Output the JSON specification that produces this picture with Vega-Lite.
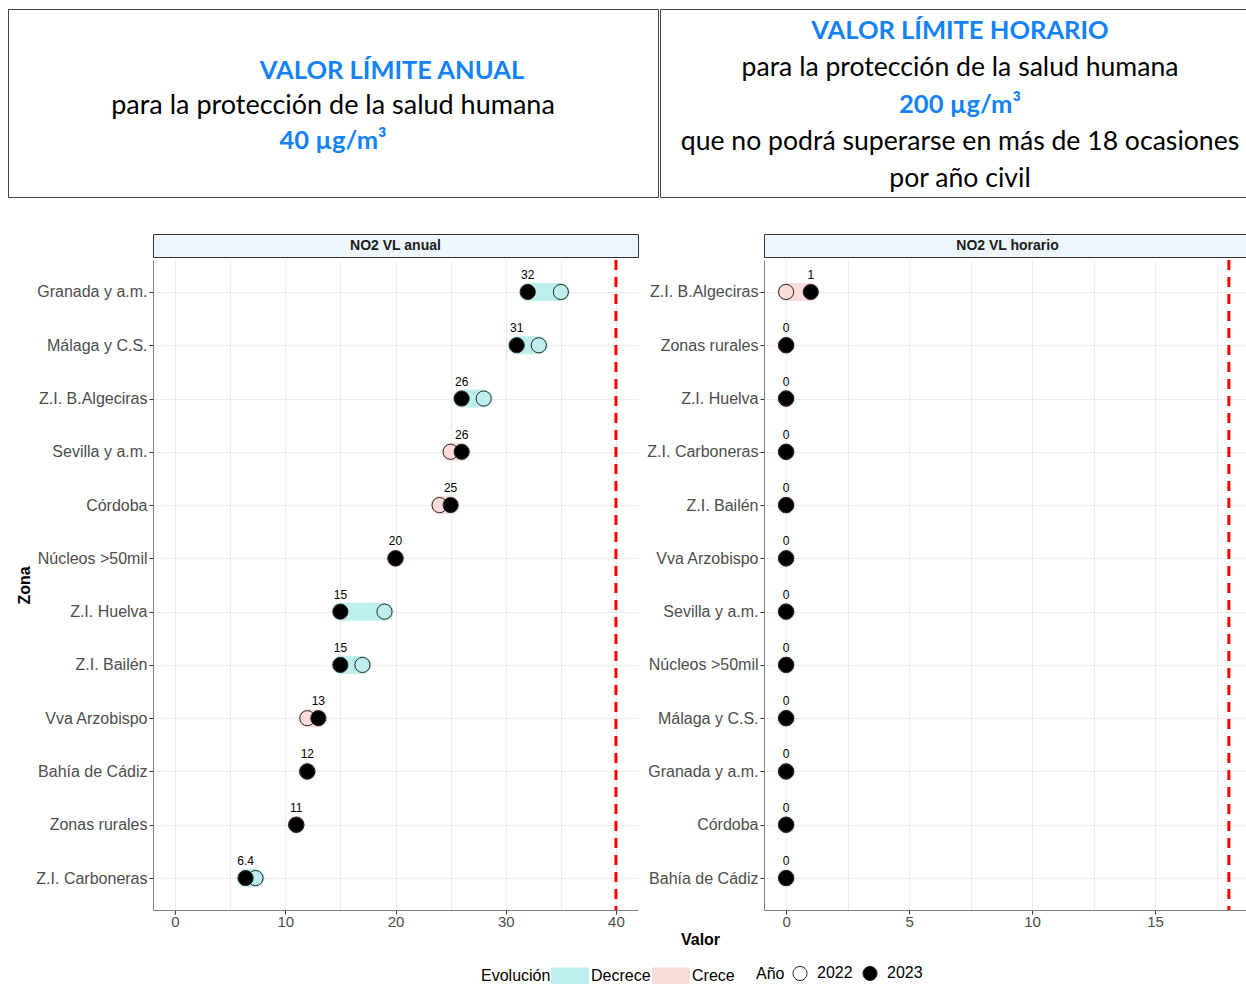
{
  "$schema": "https://vega.github.io/schema/vega-lite/v6.json",
  "padding": {"left": 7, "top": 8, "right": 0, "bottom": 0},
  "background": "white",
  "align": "none",
  "resolve": {"scale": {"stroke": "shared", "fill": "shared"}, "legend": {"stroke": "shared", "fill": "shared"}},
  "config": {
    "font": "Liberation Sans",
    "view": {"stroke": null},
    "axis": {
      "labelFont": "Liberation Sans", "labelFontSize": 16, "labelColor": "#4d4d4d",
      "tickColor": "#333333", "tickSize": 4, "domainColor": "#7f7f7f",
      "gridColor": "#ebebeb", "gridWidth": 1,
      "titleFont": "Liberation Sans", "titleFontSize": 16, "titleFontWeight": "bold", "titleColor": "#000000"
    },
    "axisX": {"labelFontSize": 15, "labelPadding": 0},
    "legend": {
      "labelFont": "Liberation Sans", "titleFont": "Liberation Sans",
      "labelFontSize": 16, "titleFontSize": 16, "titleFontWeight": "normal",
      "labelColor": "#000000", "titleColor": "#000000"
    }
  },
  "datasets": {
    "cabecera": [
      {"caja": "anual", "linea": 1, "texto": "VALOR LÍMITE ANUAL", "tipo": "titulo"},
      {"caja": "anual", "linea": 2, "texto": "para la protección de la salud humana", "tipo": "texto"},
      {"caja": "anual", "linea": 3, "texto": "40 µg/m³", "tipo": "valor"},
      {"caja": "horario", "linea": 1, "texto": "VALOR LÍMITE HORARIO", "tipo": "titulo"},
      {"caja": "horario", "linea": 2, "texto": "para la protección de la salud humana", "tipo": "texto"},
      {"caja": "horario", "linea": 3, "texto": "200 µg/m³", "tipo": "valor"},
      {"caja": "horario", "linea": 4, "texto": "que no podrá superarse en más de 18 ocasiones", "tipo": "texto"},
      {"caja": "horario", "linea": 5, "texto": "por año civil", "tipo": "texto"}
    ],
    "anual": [
      {"zona": "Granada y a.m.", "2022": 35, "2023": 32, "evolucion": "Decrece"},
      {"zona": "Málaga y C.S.", "2022": 33, "2023": 31, "evolucion": "Decrece"},
      {"zona": "Z.I. B.Algeciras", "2022": 28, "2023": 26, "evolucion": "Decrece"},
      {"zona": "Sevilla y a.m.", "2022": 25, "2023": 26, "evolucion": "Crece"},
      {"zona": "Córdoba", "2022": 24, "2023": 25, "evolucion": "Crece"},
      {"zona": "Núcleos >50mil", "2022": 20, "2023": 20, "evolucion": "Crece"},
      {"zona": "Z.I. Huelva", "2022": 19, "2023": 15, "evolucion": "Decrece"},
      {"zona": "Z.I. Bailén", "2022": 17, "2023": 15, "evolucion": "Decrece"},
      {"zona": "Vva Arzobispo", "2022": 12, "2023": 13, "evolucion": "Crece"},
      {"zona": "Bahía de Cádiz", "2022": 12, "2023": 12, "evolucion": "Crece"},
      {"zona": "Zonas rurales", "2022": 11, "2023": 11, "evolucion": "Crece"},
      {"zona": "Z.I. Carboneras", "2022": 7.3, "2023": 6.4, "evolucion": "Decrece"}
    ],
    "horario": [
      {"zona": "Z.I. B.Algeciras", "2022": 0, "2023": 1, "evolucion": "Crece"},
      {"zona": "Zonas rurales", "2022": 0, "2023": 0, "evolucion": "Crece"},
      {"zona": "Z.I. Huelva", "2022": 0, "2023": 0, "evolucion": "Crece"},
      {"zona": "Z.I. Carboneras", "2022": 0, "2023": 0, "evolucion": "Crece"},
      {"zona": "Z.I. Bailén", "2022": 0, "2023": 0, "evolucion": "Crece"},
      {"zona": "Vva Arzobispo", "2022": 0, "2023": 0, "evolucion": "Crece"},
      {"zona": "Sevilla y a.m.", "2022": 0, "2023": 0, "evolucion": "Crece"},
      {"zona": "Núcleos >50mil", "2022": 0, "2023": 0, "evolucion": "Crece"},
      {"zona": "Málaga y C.S.", "2022": 0, "2023": 0, "evolucion": "Crece"},
      {"zona": "Granada y a.m.", "2022": 0, "2023": 0, "evolucion": "Crece"},
      {"zona": "Córdoba", "2022": 0, "2023": 0, "evolucion": "Crece"},
      {"zona": "Bahía de Cádiz", "2022": 0, "2023": 0, "evolucion": "Crece"}
    ]
  },
  "spacing": 35,
  "vconcat": [
    {
      "spacing": 0,
      "hconcat": [
        {
          "width": 650, "height": 188,
          "view": {"stroke": "#444444", "strokeWidth": 1},
          "data": {"name": "cabecera"},
          "transform": [{"filter": "datum.caja == 'anual'"}],
          "encoding": {
            "x": {"field": "caja", "type": "nominal", "axis": null},
            "y": {"field": "linea", "type": "ordinal", "axis": null, "scale": {"type": "point", "domain": [0, 1, 2, 3, 4], "padding": 0.69}},
            "text": {"field": "texto"}
          },
          "layer": [
            {"transform": [{"filter": "datum.tipo == 'titulo'"}],
             "mark": {"type": "text", "font": "Lato", "fontSize": 25.5, "fontWeight": "bold", "color": "#1282f6", "baseline": "middle", "dx": 59, "dy": 3}},
            {"transform": [{"filter": "datum.tipo == 'valor'"}],
             "mark": {"type": "text", "font": "Lato", "fontSize": 25.5, "fontWeight": "bold", "color": "#1282f6", "baseline": "middle", "dy": 3}},
            {"transform": [{"filter": "datum.tipo == 'texto'"}],
             "mark": {"type": "text", "font": "Lato", "fontSize": 27, "color": "#000000", "baseline": "middle", "dy": 3}}
          ]
        },
        {
          "width": 600, "height": 188,
          "view": {"stroke": "#444444", "strokeWidth": 1},
          "data": {"name": "cabecera"},
          "transform": [{"filter": "datum.caja == 'horario'"}],
          "encoding": {
            "x": {"field": "caja", "type": "nominal", "axis": null},
            "y": {"field": "linea", "type": "ordinal", "axis": null, "scale": {"type": "point", "padding": 0.55}},
            "text": {"field": "texto"}
          },
          "layer": [
            {"transform": [{"filter": "datum.tipo != 'texto'"}],
             "mark": {"type": "text", "font": "Lato", "fontSize": 25.5, "fontWeight": "bold", "color": "#1282f6", "baseline": "middle", "dy": 2}},
            {"transform": [{"filter": "datum.tipo == 'texto'"}],
             "mark": {"type": "text", "font": "Lato", "fontSize": 26.6, "color": "#000000", "baseline": "middle", "dy": 2}}
          ]
        }
      ]
    },
    {
      "spacing": 7,
      "align": "each",
      "hconcat": [
        {
          "width": 1, "height": 1,
          "data": {"values": []},
          "mark": "point"
        },
        {
          "spacing": 0,
          "vconcat": [
            {
              "width": 485, "height": 23,
              "view": {"fill": "#eef6fd", "stroke": "#333333", "strokeWidth": 1},
              "data": {"values": [{"indicador": "NO2 VL anual"}]},
              "mark": {"type": "text", "fontWeight": "bold", "fontSize": 14, "color": "#1a1a1a", "baseline": "middle"},
              "encoding": {
                "x": {"field": "indicador", "type": "nominal", "axis": null},
                "y": {"field": "indicador", "type": "nominal", "axis": null},
                "text": {"field": "indicador"}
              }
            },
            {
              "width": 485, "height": 650,
              "data": {"name": "anual"},
              "layer": [
                {
                  "data": {"values": [{"limite": 40}]},
                  "mark": {"type": "rule", "color": "#ff0000", "strokeWidth": 3, "strokeDash": [10, 7]},
                  "encoding": {
                    "x": {"field": "limite", "type": "quantitative",
                      "scale": {"domain": [-2, 42], "nice": false, "zero": false},
                      "axis": {"title": null, "values": [0, 5, 10, 15, 20, 25, 30, 35, 40],
                        "labelExpr": "datum.value % 10 === 0 ? datum.label : ''",
                        "tickOpacity": {"condition": {"test": "datum.value % 10 === 0", "value": 1}, "value": 0},
                        "grid": true}}
                  }
                },
                {
                  "mark": {"type": "rule", "strokeWidth": 18, "strokeCap": "round", "opacity": 1},
                  "encoding": {
                    "y": {"field": "zona", "type": "nominal",
                      "scale": {"type": "point", "padding": 0.6, "domain": ["Granada y a.m.", "Málaga y C.S.", "Z.I. B.Algeciras", "Sevilla y a.m.", "Córdoba", "Núcleos >50mil", "Z.I. Huelva", "Z.I. Bailén", "Vva Arzobispo", "Bahía de Cádiz", "Zonas rurales", "Z.I. Carboneras"]},
                      "axis": {"title": "Zona", "titlePadding": 3, "labelPadding": 2, "grid": true}},
                    "x": {"field": "2022", "type": "quantitative",
                      "axis": {"title": null, "values": [0, 5, 10, 15, 20, 25, 30, 35, 40],
                        "labelExpr": "datum.value % 10 === 0 ? datum.label : ''",
                        "tickOpacity": {"condition": {"test": "datum.value % 10 === 0", "value": 1}, "value": 0},
                        "grid": true}},
                    "x2": {"field": "2023"},
                    "stroke": {"field": "evolucion", "type": "nominal",
                      "scale": {"domain": ["Decrece", "Crece"], "range": ["#bfeeee", "#fbdcd8"]},
                      "legend": {"title": "Evolución", "orient": "none", "legendX": 473, "legendY": 948,
                        "direction": "horizontal", "titleOrient": "left", "titleAnchor": "middle", "titleBaseline": "bottom",
                        "symbolType": "M-1.8,0H1.8",
                        "symbolStrokeWidth": 17, "symbolSize": 441, "columnPadding": -33, "labelOffset": 2,
                        "titlePadding": 0, "symbolOpacity": 1}}
                  }
                },
                {
                  "transform": [{"fold": ["2022", "2023"], "as": ["Año", "valor"]}],
                  "mark": {"type": "circle", "size": 230, "stroke": "#262626", "strokeWidth": 1, "opacity": 1},
                  "encoding": {
                    "y": {"field": "zona", "type": "nominal", "axis": {"title": "Zona", "titlePadding": 3, "labelPadding": 2, "grid": true}},
                    "x": {"field": "valor", "type": "quantitative",
                      "axis": {"title": null, "values": [0, 5, 10, 15, 20, 25, 30, 35, 40],
                        "labelExpr": "datum.value % 10 === 0 ? datum.label : ''",
                        "tickOpacity": {"condition": {"test": "datum.value % 10 === 0", "value": 1}, "value": 0},
                        "grid": true}},
                    "fill": {"field": "Año", "type": "nominal",
                      "scale": {"domain": ["2022", "2023"], "range": ["rgba(255,255,255,0)", "#000000"]},
                      "legend": {"title": "Año", "orient": "none", "legendX": 748, "legendY": 956,
                        "direction": "horizontal", "titleOrient": "left", "symbolType": "circle",
                        "symbolSize": 200, "symbolStrokeColor": "#262626", "symbolStrokeWidth": 1,
                        "columnPadding": 7, "labelOffset": 9, "titlePadding": 7}}
                  }
                },
                {
                  "mark": {"type": "text", "dy": -17, "fontSize": 12, "color": "#000000"},
                  "encoding": {
                    "y": {"field": "zona", "type": "nominal", "axis": {"title": "Zona", "titlePadding": 3, "labelPadding": 2, "grid": true}},
                    "x": {"field": "2023", "type": "quantitative",
                      "axis": {"title": null, "values": [0, 5, 10, 15, 20, 25, 30, 35, 40],
                        "labelExpr": "datum.value % 10 === 0 ? datum.label : ''",
                        "tickOpacity": {"condition": {"test": "datum.value % 10 === 0", "value": 1}, "value": 0},
                        "grid": true}},
                    "text": {"field": "2023", "type": "quantitative"}
                  }
                }
              ]
            }
          ]
        },
        {
          "spacing": 0,
          "vconcat": [
            {
              "width": 487, "height": 23,
              "view": {"fill": "#eef6fd", "stroke": "#333333", "strokeWidth": 1},
              "data": {"values": [{"indicador": "NO2 VL horario"}]},
              "mark": {"type": "text", "fontWeight": "bold", "fontSize": 14, "color": "#1a1a1a", "baseline": "middle"},
              "encoding": {
                "x": {"field": "indicador", "type": "nominal", "axis": null},
                "y": {"field": "indicador", "type": "nominal", "axis": null},
                "text": {"field": "indicador"}
              }
            },
            {
              "width": 487, "height": 650,
              "data": {"name": "horario"},
              "layer": [
                {
                  "data": {"values": [{"limite": 18}]},
                  "mark": {"type": "rule", "color": "#ff0000", "strokeWidth": 3, "strokeDash": [10, 7]},
                  "encoding": {
                    "x": {"field": "limite", "type": "quantitative",
                      "scale": {"domain": [-0.9, 18.9], "nice": false, "zero": false},
                      "axis": {"title": "Valor", "titleX": -64, "titleAlign": "center", "titlePadding": 2,
                        "values": [0, 2.5, 5, 7.5, 10, 12.5, 15, 17.5],
                        "labelExpr": "datum.value % 5 === 0 ? datum.label : ''",
                        "tickOpacity": {"condition": {"test": "datum.value % 5 === 0", "value": 1}, "value": 0},
                        "grid": true}}
                  }
                },
                {
                  "mark": {"type": "rule", "strokeWidth": 18, "strokeCap": "round", "opacity": 1},
                  "encoding": {
                    "y": {"field": "zona", "type": "nominal",
                      "scale": {"type": "point", "padding": 0.6, "domain": ["Z.I. B.Algeciras", "Zonas rurales", "Z.I. Huelva", "Z.I. Carboneras", "Z.I. Bailén", "Vva Arzobispo", "Sevilla y a.m.", "Núcleos >50mil", "Málaga y C.S.", "Granada y a.m.", "Córdoba", "Bahía de Cádiz"]},
                      "axis": {"title": null, "labelPadding": 2, "grid": true}},
                    "x": {"field": "2022", "type": "quantitative",
                      "axis": {"title": "Valor", "titleX": -64, "titleAlign": "center", "titlePadding": 2,
                        "values": [0, 2.5, 5, 7.5, 10, 12.5, 15, 17.5],
                        "labelExpr": "datum.value % 5 === 0 ? datum.label : ''",
                        "tickOpacity": {"condition": {"test": "datum.value % 5 === 0", "value": 1}, "value": 0},
                        "grid": true}},
                    "x2": {"field": "2023"},
                    "stroke": {"field": "evolucion", "type": "nominal",
                      "scale": {"domain": ["Decrece", "Crece"], "range": ["#bfeeee", "#fbdcd8"]},
                      "legend": {"title": "Evolución", "orient": "none", "legendX": 473, "legendY": 948,
                        "direction": "horizontal", "titleOrient": "left", "titleAnchor": "middle", "titleBaseline": "bottom",
                        "symbolType": "M-1.8,0H1.8",
                        "symbolStrokeWidth": 17, "symbolSize": 441, "columnPadding": -33, "labelOffset": 2,
                        "titlePadding": 0, "symbolOpacity": 1}}
                  }
                },
                {
                  "transform": [{"fold": ["2022", "2023"], "as": ["Año", "valor"]}],
                  "mark": {"type": "circle", "size": 230, "stroke": "#262626", "strokeWidth": 1, "opacity": 1},
                  "encoding": {
                    "y": {"field": "zona", "type": "nominal", "axis": {"title": null, "labelPadding": 2, "grid": true}},
                    "x": {"field": "valor", "type": "quantitative",
                      "axis": {"title": "Valor", "titleX": -64, "titleAlign": "center", "titlePadding": 2,
                        "values": [0, 2.5, 5, 7.5, 10, 12.5, 15, 17.5],
                        "labelExpr": "datum.value % 5 === 0 ? datum.label : ''",
                        "tickOpacity": {"condition": {"test": "datum.value % 5 === 0", "value": 1}, "value": 0},
                        "grid": true}},
                    "fill": {"field": "Año", "type": "nominal",
                      "scale": {"domain": ["2022", "2023"], "range": ["rgba(255,255,255,0)", "#000000"]},
                      "legend": {"title": "Año", "orient": "none", "legendX": 748, "legendY": 956,
                        "direction": "horizontal", "titleOrient": "left", "symbolType": "circle",
                        "symbolSize": 200, "symbolStrokeColor": "#262626", "symbolStrokeWidth": 1,
                        "columnPadding": 7, "labelOffset": 9, "titlePadding": 7}}
                  }
                },
                {
                  "mark": {"type": "text", "dy": -17, "fontSize": 12, "color": "#000000"},
                  "encoding": {
                    "y": {"field": "zona", "type": "nominal", "axis": {"title": null, "labelPadding": 2, "grid": true}},
                    "x": {"field": "2023", "type": "quantitative",
                      "axis": {"title": "Valor", "titleX": -64, "titleAlign": "center", "titlePadding": 2,
                        "values": [0, 2.5, 5, 7.5, 10, 12.5, 15, 17.5],
                        "labelExpr": "datum.value % 5 === 0 ? datum.label : ''",
                        "tickOpacity": {"condition": {"test": "datum.value % 5 === 0", "value": 1}, "value": 0},
                        "grid": true}},
                    "text": {"field": "2023", "type": "quantitative"}
                  }
                }
              ]
            }
          ]
        }
      ]
    }
  ]
}
